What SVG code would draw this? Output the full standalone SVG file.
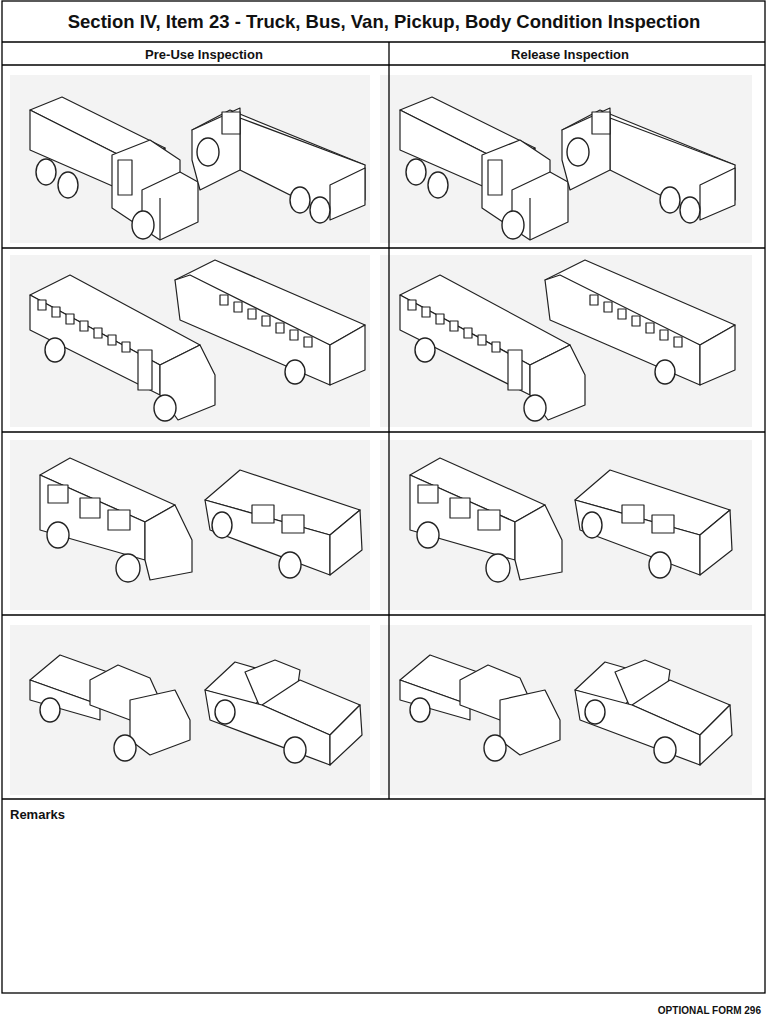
<svg xmlns="http://www.w3.org/2000/svg" width="768" height="1024" viewBox="0 0 768 1024">
<style>
.b{fill:none;stroke:#000;stroke-width:1.3}
.v{fill:#fff;stroke:#222;stroke-width:1.2;stroke-linejoin:round}
.w{fill:#fff;stroke:#222;stroke-width:1.4}
.bg{fill:#f3f3f3}
.t{font-family:"Liberation Sans",Arial,sans-serif;fill:#111}
</style>
<defs>
<g id="truckA">
<polygon class="v" points="30,110 62,97 165,148 133,162"/>
<polygon class="v" points="30,110 133,162 133,195 30,150"/>
<polygon class="v" points="133,162 165,148 165,175 133,195"/>
<polygon class="v" points="112,155 150,140 180,160 180,210 142,228 112,208"/>
<polygon class="v" points="142,190 180,172 198,182 198,222 160,240 142,228"/>
<line class="v" x1="160" y1="198" x2="160" y2="240"/>
<rect class="v" x="118" y="160" width="14" height="35"/>
<ellipse class="w" cx="46" cy="172" rx="10" ry="13"/>
<ellipse class="w" cx="68" cy="185" rx="10" ry="13"/>
<ellipse class="w" cx="143" cy="225" rx="11" ry="14"/>
</g>
<g id="truckB">
<polygon class="v" points="192,130 230,110 365,165 330,185"/>
<polygon class="v" points="240,118 365,165 365,200 330,215 240,170"/>
<polygon class="v" points="192,130 240,108 240,170 200,190 192,160"/>
<rect class="v" x="222" y="112" width="18" height="22"/>
<polygon class="v" points="330,185 365,168 365,205 330,220"/>
<ellipse class="w" cx="208" cy="152" rx="11" ry="14"/>
<ellipse class="w" cx="300" cy="200" rx="10" ry="13"/>
<ellipse class="w" cx="320" cy="210" rx="10" ry="13"/>
</g>
<g id="bus">
<polygon class="v" points="30,295 70,275 200,345 160,365"/>
<polygon class="v" points="30,295 160,365 160,395 30,330"/>
<polygon class="v" points="160,365 200,345 215,375 215,405 178,420 160,395"/>
<g class="v"><rect x="38" y="300" width="8" height="10"/><rect x="52" y="307" width="8" height="10"/><rect x="66" y="314" width="8" height="10"/><rect x="80" y="321" width="8" height="10"/><rect x="94" y="328" width="8" height="10"/><rect x="108" y="335" width="8" height="10"/><rect x="122" y="342" width="8" height="10"/></g>
<rect class="v" x="138" y="350" width="14" height="40"/>
<ellipse class="w" cx="55" cy="350" rx="10" ry="12"/>
<ellipse class="w" cx="165" cy="408" rx="11" ry="13"/>
<polygon class="v" points="175,280 215,260 365,325 330,345"/>
<polygon class="v" points="175,280 190,275 330,345 330,385 180,320"/>
<polygon class="v" points="330,345 365,325 365,370 330,385"/>
<g class="v"><rect x="220" y="295" width="8" height="10"/><rect x="234" y="302" width="8" height="10"/><rect x="248" y="309" width="8" height="10"/><rect x="262" y="316" width="8" height="10"/><rect x="276" y="323" width="8" height="10"/><rect x="290" y="330" width="8" height="10"/><rect x="304" y="337" width="8" height="10"/></g>
<ellipse class="w" cx="295" cy="372" rx="10" ry="12"/>
</g>
<g id="van">
<polygon class="v" points="40,475 70,458 175,505 145,522"/>
<polygon class="v" points="40,475 145,522 145,560 40,530"/>
<polygon class="v" points="145,522 175,505 192,540 192,572 150,580 145,560"/>
<rect class="v" x="48" y="485" width="20" height="18"/><rect class="v" x="80" y="498" width="20" height="20"/><rect class="v" x="108" y="510" width="22" height="20"/>
<ellipse class="w" cx="58" cy="535" rx="11" ry="13"/>
<ellipse class="w" cx="128" cy="568" rx="12" ry="14"/>
<polygon class="v" points="205,500 240,470 360,510 330,535"/>
<polygon class="v" points="205,500 330,535 330,575 210,530"/>
<polygon class="v" points="330,535 360,510 362,550 330,575"/>
<rect class="v" x="252" y="505" width="22" height="18"/><rect class="v" x="282" y="515" width="22" height="18"/>
<ellipse class="w" cx="222" cy="525" rx="10" ry="13"/>
<ellipse class="w" cx="290" cy="565" rx="11" ry="13"/>
</g>
<g id="pickup">
<polygon class="v" points="30,680 60,655 130,680 100,705"/>
<polygon class="v" points="30,680 100,705 100,720 30,700"/>
<polygon class="v" points="90,680 118,665 150,678 160,700 130,720 90,705"/>
<polygon class="v" points="130,700 175,690 190,720 190,740 150,755 130,740"/>
<ellipse class="w" cx="50" cy="710" rx="10" ry="12"/>
<ellipse class="w" cx="125" cy="748" rx="11" ry="13"/>
<polygon class="v" points="205,690 235,662 280,675 255,705"/>
<polygon class="v" points="245,672 275,660 300,670 295,705 262,712"/>
<polygon class="v" points="262,705 300,680 360,705 330,735"/>
<polygon class="v" points="205,690 262,705 330,735 330,765 210,720"/>
<polygon class="v" points="330,735 360,705 362,735 330,765"/>
<ellipse class="w" cx="225" cy="712" rx="10" ry="12"/>
<ellipse class="w" cx="295" cy="750" rx="11" ry="13"/>
</g>
</defs>
<rect x="0" y="0" width="768" height="1024" fill="#fff"/>
<g id="cells">
<rect class="bg" x="10" y="75" width="360" height="168"/><rect class="bg" x="380" y="75" width="372" height="168"/>
<rect class="bg" x="10" y="255" width="360" height="172"/><rect class="bg" x="380" y="255" width="372" height="172"/>
<rect class="bg" x="10" y="440" width="360" height="170"/><rect class="bg" x="380" y="440" width="372" height="170"/>
<rect class="bg" x="10" y="625" width="360" height="170"/><rect class="bg" x="380" y="625" width="372" height="170"/>
</g>
<g id="drawings">
<use href="#truckA"/><use href="#truckA" transform="translate(370,0)"/>
<use href="#truckB"/><use href="#truckB" transform="translate(370,0)"/>
<use href="#bus"/><use href="#bus" transform="translate(370,0)"/>
<use href="#van"/><use href="#van" transform="translate(370,0)"/>
<use href="#pickup"/><use href="#pickup" transform="translate(370,0)"/>
</g>
<g id="grid">
<rect class="b" x="2" y="1" width="763" height="992"/>
<line class="b" x1="2" y1="42" x2="765" y2="42"/>
<line class="b" x1="2" y1="65" x2="765" y2="65"/>
<line class="b" x1="2" y1="248" x2="765" y2="248"/>
<line class="b" x1="2" y1="432" x2="765" y2="432"/>
<line class="b" x1="2" y1="615" x2="765" y2="615"/>
<line class="b" x1="2" y1="799" x2="765" y2="799"/>
<line class="b" x1="389" y1="42" x2="389" y2="799"/>
</g>
<text class="t" x="384" y="28" font-size="18.5" font-weight="bold" text-anchor="middle">Section IV, Item 23 - Truck, Bus, Van, Pickup, Body Condition Inspection</text>
<text class="t" x="204" y="59" font-size="13" font-weight="bold" text-anchor="middle">Pre-Use Inspection</text>
<text class="t" x="570" y="59" font-size="13" font-weight="bold" text-anchor="middle">Release Inspection</text>
<text class="t" x="10" y="819" font-size="13" font-weight="bold">Remarks</text>
<text class="t" x="761" y="1014" font-size="10" font-weight="bold" text-anchor="end">OPTIONAL FORM 296</text>
</svg>
